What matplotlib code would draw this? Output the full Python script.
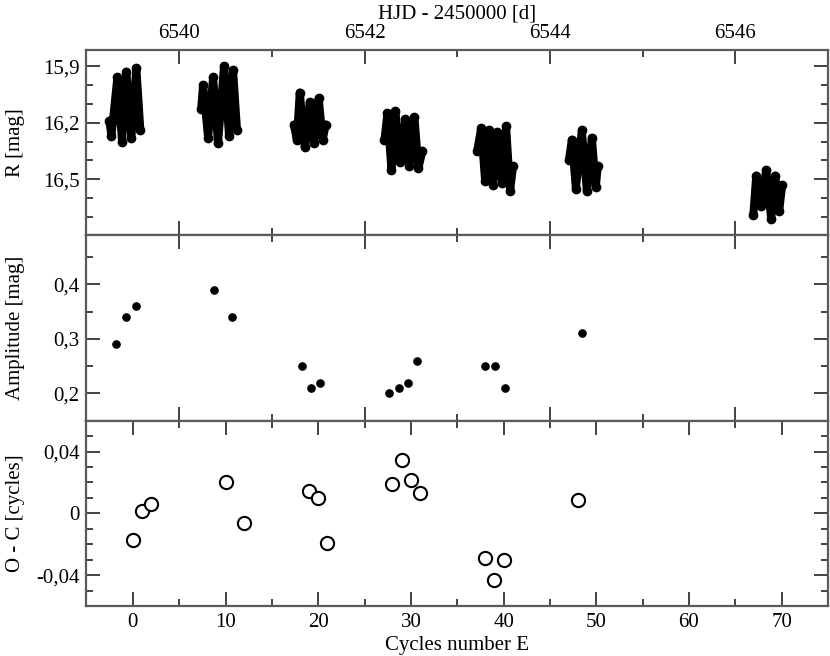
import matplotlib
matplotlib.use("Agg")
import matplotlib.pyplot as plt
from matplotlib.ticker import MultipleLocator, FuncFormatter

plt.rcParams["font.family"] = ["Liberation Serif", "DejaVu Serif"]

# light curve, one list per night (HJD - 2450000, R mag), read at the turning points
night1_t = [6539.247, 6539.269, 6539.333, 6539.384, 6539.430, 6539.484, 6539.538, 6539.581]
night1_m = [16.19, 16.27, 15.96, 16.30, 15.93, 16.28, 15.91, 16.24]
night2_t = [6540.237, 6540.258, 6540.312, 6540.366, 6540.419, 6540.484, 6540.538, 6540.581, 6540.624]
night2_m = [16.13, 16.00, 16.28, 15.96, 16.31, 15.90, 16.27, 15.92, 16.24]
night3_t = [6541.237, 6541.269, 6541.301, 6541.355, 6541.409, 6541.452, 6541.505, 6541.548, 6541.581]
night3_m = [16.21, 16.29, 16.04, 16.33, 16.09, 16.31, 16.07, 16.29, 16.21]
night4_t = [6542.215, 6542.247, 6542.290, 6542.333, 6542.387, 6542.441, 6542.484, 6542.538, 6542.581, 6542.624]
night4_m = [16.29, 16.15, 16.45, 16.14, 16.41, 16.18, 16.43, 16.17, 16.44, 16.35]
night5_t = [6543.215, 6543.258, 6543.301, 6543.344, 6543.387, 6543.430, 6543.484, 6543.527, 6543.570, 6543.602]
night5_m = [16.35, 16.23, 16.51, 16.24, 16.53, 16.25, 16.52, 16.22, 16.56, 16.43]
night6_t = [6544.204, 6544.237, 6544.280, 6544.344, 6544.398, 6544.452, 6544.495, 6544.516]
night6_m = [16.40, 16.29, 16.55, 16.24, 16.56, 16.28, 16.54, 16.43]
night7_t = [6546.194, 6546.226, 6546.280, 6546.333, 6546.387, 6546.430, 6546.473, 6546.505]
night7_m = [16.69, 16.48, 16.64, 16.45, 16.71, 16.48, 16.67, 16.53]

nights = [
    (night1_t, night1_m), (night2_t, night2_m), (night3_t, night3_m),
    (night4_t, night4_m), (night5_t, night5_m), (night6_t, night6_m),
    (night7_t, night7_m),
]

# amplitudes
amp_E = [-1.8, -0.75, 0.3, 8.75, 10.75, 18.2, 19.2, 20.2, 27.6, 28.7, 29.7, 30.7, 38.0, 39.05, 40.1, 48.5]
amp_val = [0.29, 0.34, 0.36, 0.39, 0.34, 0.25, 0.21, 0.22, 0.20, 0.21, 0.22, 0.26, 0.25, 0.25, 0.21, 0.31]

# O - C
oc_E = [0, 1, 2, 10, 12, 19, 20, 21, 28, 29, 30, 31, 38, 39, 40, 48]
oc_val = [-0.017, 0.0015, 0.006, 0.0205, -0.0065, 0.0145, 0.010, -0.019,
          0.019, 0.0345, 0.0215, 0.0135, -0.029, -0.043, -0.030, 0.0085]

# HJD day ticks expressed in cycle units (P = 0.1 d, E = 0 at HJD 6539.5)
hjd_major = [6540, 6542, 6544, 6546]
hjd_minor = [6541, 6543, 6545]


def to_cycle(h):
    return (h - 6539.5) / 0.1


def comma(v, pos):
    return ("%g" % round(v, 4)).replace(".", ",")


spine_col = "#5a5a5a"

fig = plt.figure(figsize=(8.3, 6.56), dpi=100)
left, right = 0.1042, 0.9976
h = 0.2825
ax1 = fig.add_axes([left, 0.0762 + 2 * h, right - left, h])
ax2 = fig.add_axes([left, 0.0762 + h, right - left, h])
ax3 = fig.add_axes([left, 0.0762, right - left, h])

for ax in (ax1, ax2, ax3):
    for s in ax.spines.values():
        s.set_color(spine_col)
        s.set_linewidth(1.6)
    ax.tick_params(which="both", direction="in", top=True, right=True,
                   labelsize=15, color="#222222", width=1.2)
    ax.tick_params(which="major", length=10, pad=5)
    ax.tick_params(which="minor", length=5)
    ax.yaxis.set_major_formatter(FuncFormatter(comma))

# top panel: light curve
for t, m in nights:
    ax1.plot(t, m, "-", color="black", lw=5.8, solid_joinstyle="round",
             solid_capstyle="round")
    ax1.plot(t, m, "o", color="black", ms=6)
ax1.set_xlim(6539, 6547)
ax1.set_ylim(16.797, 15.815)
ax1.xaxis.set_major_locator(MultipleLocator(2))
ax1.xaxis.set_minor_locator(MultipleLocator(1))
ax1.yaxis.set_major_locator(MultipleLocator(0.3))
ax1.yaxis.set_minor_locator(MultipleLocator(0.1))
ax1.tick_params(axis="x", labeltop=True, labelbottom=False)
ax1.xaxis.set_label_position("top")
ax1.set_xlabel("HJD - 2450000 [d]", fontsize=15, labelpad=4)
ax1.set_ylabel("R [mag]", fontsize=15)

# middle panel: amplitude
ax2.plot(amp_E, amp_val, "o", color="black", ms=5.2, ls="none")
ax2.set_xlim(-5, 75)
ax2.set_ylim(0.15, 0.49)
ax2.set_xticks([to_cycle(v) for v in hjd_major])
ax2.set_xticks([to_cycle(v) for v in hjd_minor], minor=True)
ax2.tick_params(axis="x", labelbottom=False)
ax2.yaxis.set_major_locator(MultipleLocator(0.1))
ax2.yaxis.set_minor_locator(MultipleLocator(0.05))
ax2.set_ylabel("Amplitude [mag]", fontsize=15)

# bottom panel: O - C
ax3.plot(oc_E, oc_val, "o", mfc="white", mec="black", mew=1.5, ms=9.5, ls="none")
ax3.set_xlim(-5, 75)
ax3.set_ylim(-0.06, 0.06)
ax3.xaxis.set_major_locator(MultipleLocator(10))
ax3.xaxis.set_minor_locator(MultipleLocator(5))
ax3.yaxis.set_major_locator(MultipleLocator(0.04))
ax3.yaxis.set_minor_locator(MultipleLocator(0.01))
ax3.set_xlabel("Cycles number E", fontsize=15, labelpad=3)
ax3.set_ylabel("O - C [cycles]", fontsize=15)

for ax in (ax1, ax2, ax3):
    ax.yaxis.set_label_coords(-0.083, 0.5)

fig.savefig("out.png", dpi=100)
